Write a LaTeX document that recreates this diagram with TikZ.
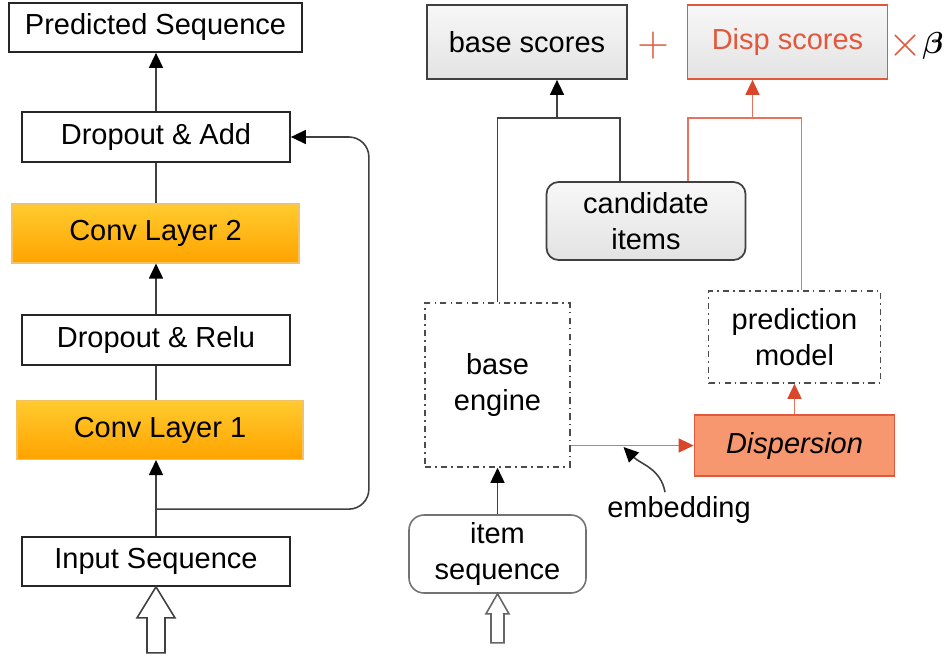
\documentclass[tikz,border=0pt]{standalone}
\usepackage{fontspec}
\setmainfont{Liberation Sans}
\usepackage{amsmath,bm}
\usetikzlibrary{positioning,arrows.meta,calc}

\definecolor{convtop}{HTML}{FFCB2E}
\definecolor{convbot}{HTML}{FFA300}
\definecolor{convedge}{HTML}{F3C265}
\definecolor{disline}{HTML}{E8735C}
\definecolor{distip}{HTML}{D8462B}
\definecolor{disedge}{HTML}{E2583D}
\definecolor{disfill}{HTML}{F7976F}

\begin{document}
\begin{tikzpicture}[
    every node/.style={font=\fontsize{16.5}{20.4}\selectfont, inner sep=0pt},
    plainbox/.style={draw=black!85, line width=1pt, fill=white, minimum width=5.36cm, minimum height=1cm},
    convbox/.style={draw=convedge, line width=0.6pt, top color=convtop, bottom color=convbot, minimum width=5.74cm, minimum height=1.18cm},
    silverbox/.style={draw=black!75, line width=1pt, top color=black!3, bottom color=black!11, minimum width=4cm, minimum height=1.48cm},
    dashbox/.style={draw=black!70, line width=0.9pt, dash pattern=on 3.5pt off 2.3pt on 1pt off 2.3pt, align=center},
    hollow/.style={draw=black!75, line width=0.9pt, fill=white},
    link/.style={draw=black!75, line width=0.9pt},
    redlink/.style={draw=disline, line width=0.9pt},
    redtip/.style={-{Triangle[length=0.3cm,width=0.28cm,color=distip]}},
    >={Triangle[length=0.3cm,width=0.28cm,color=black]}
  ]
    \useasboundingbox (0,0) rectangle (18.94,13.12);

    % convolution block
    \node[plainbox, minimum width=5.86cm, minimum height=0.98cm] (pred) at (3.11,12.57) {Predicted Sequence};
    \node[plainbox] (dropadd) at (3.12,10.38) {Dropout \& Add};
    \node[convbox] (conv2) at (3.11,8.45) {Conv Layer 2};
    \node[plainbox] (droprelu) at (3.12,6.32) {Dropout \& Relu};
    \node[convbox, minimum width=5.72cm] (conv1) at (3.2,4.52) {Conv Layer 1};
    \node[plainbox, minimum height=0.98cm] (input) at (3.12,1.89) {Input Sequence};

    \draw[link,->] (dropadd.north) -- (dropadd.north |- pred.south);
    \draw[link] (dropadd.south) -- (dropadd.south |- conv2.north);
    \draw[link,->] (droprelu.north) -- (droprelu.north |- conv2.south);
    \draw[link] (droprelu.south) -- (droprelu.south |- conv1.north);
    \draw[link,->] (input.north) -- (input.north |- conv1.south);
    \coordinate (split) at ([yshift=0.54cm]input.north);
    \draw[link,->,rounded corners=0.4cm] (split) -| ([xshift=1.56cm]dropadd.east) -- (dropadd.east);
    \draw[hollow] (input.south) -- ++(0.38,-0.62) -- ++(-0.2,0) -- ++(0,-0.70) -- ++(-0.36,0) -- ++(0,0.70) -- ++(-0.2,0) -- cycle;

    % scoring
    \node[silverbox] (bases) at (10.54,12.28) {base scores};
    \node[text=disedge, font=\fontsize{24}{24}\selectfont] (plus) at (13.06,12.2) {$+$};
    \node[silverbox, draw=disedge, text=disedge] (disps) at (15.75,12.28) {Disp scores};
    \node[text=disedge, font=\fontsize{24}{24}\selectfont] (times) at (18.1,12.2) {$\times$};
    \node (beta) at (18.66,12.2) {$\bm{\beta}$};

    \node[silverbox, rounded corners=0.24cm, minimum width=3.98cm, minimum height=1.56cm, align=center] (cand) at (12.92,8.70) {candidate\\items};
    \node[dashbox, minimum width=2.89cm, minimum height=3.28cm] (engine) at (9.95,5.42) {base\\engine};
    \node[dashbox, minimum width=3.44cm, minimum height=1.84cm] (predm) at (15.89,6.38) {prediction\\model};
    \node[draw=disedge, line width=1pt, fill=disfill, minimum width=4cm, minimum height=1.22cm] (disp) at (15.89,4.21) {\itshape Dispersion};
    \node[draw=black!55, line width=0.9pt, rounded corners=0.3cm, minimum width=3.54cm, minimum height=1.56cm, align=center] (itemseq) at (9.95,2.04) {item\\sequence};
    \node (emb) at (13.58,2.92) {embedding};

    \coordinate (bjoin) at (11.14,10.76);
    \draw[link] (engine.north) |- (bjoin) -| ([xshift=-0.52cm]cand.north);
    \draw[link,->] (bjoin) -- (bjoin |- bases.south);
    \coordinate (rjoin) at (15.05,10.76);
    \draw[redlink] ([xshift=0.84cm]cand.north) |- (rjoin) -| ([xshift=0.14cm]predm.north);
    \draw[redlink,redtip] (rjoin) -- (rjoin |- disps.south);
    \draw[redlink,redtip] (disp.north) -- (disp.north |- predm.south);
    \draw[redlink,redtip] (engine.east |- disp.west) -- (disp.west);
    \draw[link,->] (itemseq.north) -- (engine.south);
    \coordinate (embtip) at ($(engine.east |- disp.west)!0.43!(disp.west) + (0,-0.03)$);
    \draw[link,->] ([xshift=-0.28cm,yshift=0.08cm]emb.north) to[out=100, in=-45] (embtip);
    \draw[hollow, draw=black!60] (itemseq.south) -- ++(0.23,-0.40) -- ++(-0.1,0) -- ++(0,-0.58) -- ++(-0.26,0) -- ++(0,0.58) -- ++(-0.1,0) -- cycle;
  \end{tikzpicture}
\end{document}
